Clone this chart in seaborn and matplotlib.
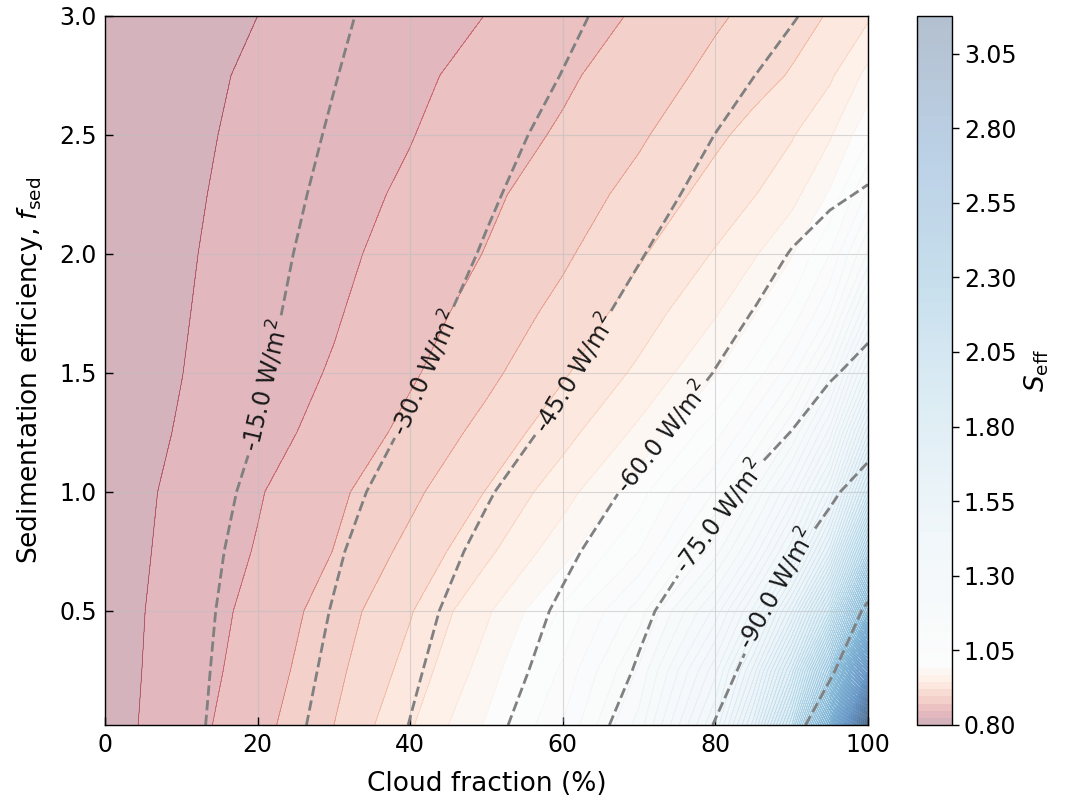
import numpy as np
import matplotlib
matplotlib.use("Agg")
import matplotlib.pyplot as plt
import seaborn as sns
from matplotlib.colors import TwoSlopeNorm, ListedColormap

# ---------------- data ----------------
cloud_fraction = [0, 10, 20, 30, 40, 50, 60, 70, 80, 85, 90, 95, 100]
fsed_values = [0.02, 0.25, 0.5, 0.75, 1.0, 1.25, 1.5, 1.75, 2.0, 2.25, 2.5, 2.75, 3.0]

# S_eff on the grid (one row per fsed value)
seff_f002 = [0.814, 0.837, 0.864, 0.896, 0.941, 0.995, 1.065, 1.17, 1.38, 1.58, 1.88, 2.40, 3.17]
seff_f025 = [0.814, 0.8347, 0.8589, 0.8893, 0.9287, 0.9787, 1.045, 1.14, 1.32, 1.48, 1.72, 2.10, 2.75]
seff_f050 = [0.814, 0.833, 0.855, 0.883, 0.918, 0.964, 1.02, 1.10, 1.24, 1.36, 1.54, 1.82, 2.30]
seff_f075 = [0.814, 0.8304, 0.8496, 0.8725, 0.9029, 0.9385, 0.9824, 1.04, 1.15, 1.24, 1.37, 1.58, 1.98]
seff_f100 = [0.814, 0.8285, 0.846, 0.867, 0.890, 0.921, 0.958, 1.005, 1.09, 1.16, 1.26, 1.42, 1.72]
seff_f125 = [0.814, 0.8254, 0.8393, 0.8562, 0.8784, 0.9035, 0.9352, 0.9734, 1.03, 1.085, 1.16, 1.29, 1.54]
seff_f150 = [0.814, 0.8237, 0.8364, 0.850, 0.869, 0.890, 0.917, 0.949, 0.99, 1.025, 1.08, 1.18, 1.38]
seff_f175 = [0.814, 0.8226, 0.834, 0.8459, 0.8624, 0.8811, 0.9031, 0.9315, 0.9661, 0.99, 1.025, 1.09, 1.24]
seff_f200 = [0.814, 0.8218, 0.8318, 0.8428, 0.8566, 0.873, 0.892, 0.917, 0.946, 0.965, 0.99, 1.04, 1.14]
seff_f225 = [0.814, 0.821, 0.8298, 0.8401, 0.8516, 0.8674, 0.8841, 0.9035, 0.9292, 0.9427, 0.9594, 0.995, 1.07]
seff_f250 = [0.814, 0.8203, 0.828, 0.8376, 0.8471, 0.8606, 0.875, 0.8928, 0.9153, 0.9276, 0.942, 0.965, 1.01]
seff_f275 = [0.814, 0.8197, 0.8263, 0.835, 0.8437, 0.8548, 0.868, 0.8843, 0.902, 0.911, 0.922, 0.94, 0.975]
seff_f300 = [0.814, 0.819, 0.824, 0.8322, 0.8402, 0.8483, 0.8611, 0.8746, 0.893, 0.901, 0.910, 0.922, 0.94]

# radiative flux (W/m^2) on the same grid
flux_f002 = [0, -11.4, -22.7, -34.1, -45.3, -56.8, -68.1, -79.4, -90.4, -96.5, -103.0, -108.5, -114.0]
flux_f025 = [0, -10.9, -21.7, -32.3, -43.2, -54.0, -64.8, -76.0, -86.8, -92.4, -98.5, -104.2, -110.0]
flux_f050 = [0, -10.4, -20.6, -30.6, -41.0, -51.5, -61.8, -72.8, -83.3, -88.5, -94.5, -100.0, -106.0]
flux_f075 = [0, -9.6, -19.2, -28.6, -38.3, -47.8, -57.6, -67.7, -77.9, -83.2, -89.0, -94.2, -99.5]
flux_f100 = [0, -8.7, -17.4, -26.2, -35.1, -44.0, -53.2, -62.4, -72.0, -77.2, -82.8, -88.5, -94.0]
flux_f125 = [0, -7.8, -15.2, -23.4, -31.3, -39.5, -47.8, -56.8, -65.6, -70.8, -75.2, -80.5, -86.0]
flux_f150 = [0, -7.0, -14.0, -21.4, -28.6, -36.1, -43.7, -52.0, -60.3, -64.6, -69.2, -74.0, -78.0]
flux_f175 = [0, -6.5, -12.9, -19.6, -26.4, -33.2, -40.4, -47.9, -56.5, -60.3, -64.2, -68.0, -72.0]
flux_f200 = [0, -6.0, -12.1, -18.3, -24.5, -30.8, -37.5, -44.4, -51.9, -55.9, -60.5, -63.6, -66.5]
flux_f225 = [0, -5.6, -11.3, -17.0, -22.9, -28.8, -34.8, -41.2, -48.2, -51.8, -55.4, -58.7, -60.8]
flux_f250 = [0, -5.3, -10.5, -15.8, -21.6, -27.0, -32.5, -38.8, -45.1, -48.0, -50.8, -53.4, -56.0]
flux_f275 = [0, -4.9, -9.7, -14.7, -19.9, -25.2, -30.2, -35.9, -41.9, -44.9, -47.6, -50.3, -53.0]
flux_f300 = [0, -4.5, -9.0, -13.6, -18.7, -23.7, -28.3, -33.3, -38.9, -41.6, -44.5, -47.3, -50.0]

flux_levels = [-105, -90, -75, -60, -45, -30, -15]
seff_min, seff_center, seff_max = 0.80, 1.0, 3.176
cbar_ticks = [0.80, 1.05, 1.30, 1.55, 1.80, 2.05, 2.30, 2.55, 2.80, 3.05]
x_ticks = [0, 20, 40, 60, 80, 100]
y_ticks = [0.5, 1.0, 1.5, 2.0, 2.5, 3.0]

# ---------------- plotting ----------------
sns.set_theme(style="white")
plt.rcParams["font.family"] = ["DejaVu Sans"]
for key in ["text.color", "axes.labelcolor", "xtick.color", "ytick.color", "axes.edgecolor"]:
    plt.rcParams[key] = "black"

S = np.array([seff_f002, seff_f025, seff_f050, seff_f075, seff_f100, seff_f125, seff_f150,
              seff_f175, seff_f200, seff_f225, seff_f250, seff_f275, seff_f300])
F = np.array([flux_f002, flux_f025, flux_f050, flux_f075, flux_f100, flux_f125, flux_f150,
              flux_f175, flux_f200, flux_f225, flux_f250, flux_f275, flux_f300])
X, Y = np.meshgrid(cloud_fraction, fsed_values)

fig = plt.figure(figsize=(10.66, 8), dpi=100)
ax = fig.add_axes([105 / 1066, 75 / 800, 763 / 1066, 709 / 800])
cax = fig.add_axes([917 / 1066, 75 / 800, 35 / 1066, 709 / 800])

levels = np.linspace(seff_min, seff_max, 100)
base = sns.color_palette("RdBu", as_cmap=True)
tsn = TwoSlopeNorm(vmin=seff_min, vcenter=seff_center, vmax=seff_max)
xs = np.linspace(seff_min, seff_max, 512)
cmap = ListedColormap(base(tsn(xs)))

filled = ax.contourf(X, Y, S, levels=levels, cmap=cmap, vmin=seff_min, vmax=seff_max, alpha=0.3)
ax.contour(X, Y, S, levels=levels, cmap=cmap, vmin=seff_min, vmax=seff_max,
           linewidths=0.5, alpha=0.5)

ax.set_axisbelow("line")
ax.grid(True, color="0.75", linewidth=0.8, alpha=0.6)

cs = ax.contour(X, Y, F, levels=flux_levels, colors="gray", linestyles="--", linewidths=2)
label_pts = [(20.5, 1.45), (42, 1.5), (61.5, 1.5), (73, 1.23), (80.3, 0.9), (87.5, 0.6)]
ax.clabel(cs, fmt=lambda v: f"{v:.1f} W/m$^2$", inline=True, fontsize=17, colors="k",
          manual=label_pts)

ax.set_xlim(0, 100)
ax.set_ylim(min(fsed_values), 3.0)
ax.set_xticks(x_ticks)
ax.set_yticks(y_ticks)
ax.tick_params(direction="in", length=6, width=1, labelsize=17, top=False, right=False,
               bottom=True, left=True, pad=6)
for sp in ax.spines.values():
    sp.set_linewidth(1.0)
    sp.set_color("black")
ax.set_xlabel("Cloud fraction (%)", fontsize=19, labelpad=10)
ax.set_ylabel(r"Sedimentation efficiency, $f_{\rm sed}$", fontsize=19, labelpad=10)

cb = fig.colorbar(filled, cax=cax, ticks=cbar_ticks)
cb.ax.yaxis.set_major_formatter("{x:.2f}")
cb.ax.tick_params(labelsize=17, length=5, width=1, direction="out")
cb.outline.set_linewidth(1.0)
cb.outline.set_edgecolor("black")
cb.set_label(r"$S_{\rm eff}$", fontsize=19)

fig.savefig("out.png", dpi=100)
